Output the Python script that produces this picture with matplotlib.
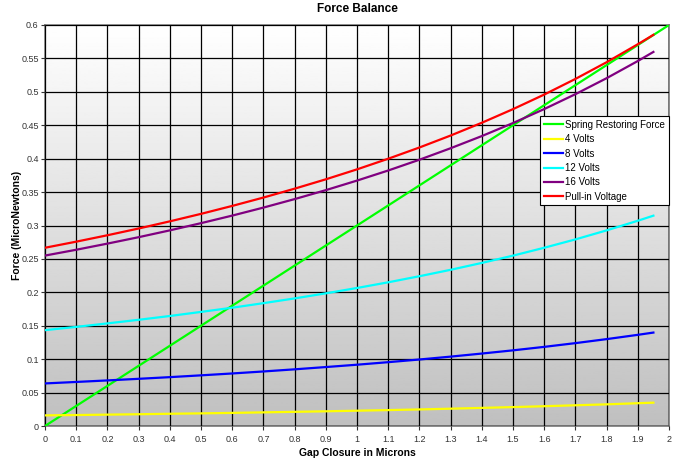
import matplotlib
matplotlib.use('Agg')
import matplotlib.pyplot as plt
import numpy as np

# gap closure (microns)
x_spring = [0, 0.1, 0.2, 0.3, 0.4, 0.5, 0.6, 0.7, 0.8, 0.9, 1.0,
            1.1, 1.2, 1.3, 1.4, 1.5, 1.6, 1.7, 1.8, 1.9, 2.0]
spring = [0, 0.03, 0.06, 0.09, 0.12, 0.15, 0.18, 0.21, 0.24, 0.27, 0.30,
          0.33, 0.36, 0.39, 0.42, 0.45, 0.48, 0.51, 0.54, 0.57, 0.60]

x_volt = [0, 0.1, 0.2, 0.3, 0.4, 0.5, 0.6, 0.7, 0.8, 0.9, 1.0,
          1.1, 1.2, 1.3, 1.4, 1.5, 1.6, 1.7, 1.8, 1.9, 1.95]
v4 = [0.0159, 0.0164, 0.0170, 0.0176, 0.0183, 0.0189, 0.0196, 0.0204, 0.0212, 0.0220, 0.0229,
      0.0238, 0.0248, 0.0259, 0.0271, 0.0283, 0.0296, 0.0310, 0.0324, 0.0341, 0.0349]
v8 = [0.0637, 0.0659, 0.0682, 0.0706, 0.0731, 0.0758, 0.0786, 0.0816, 0.0848, 0.0882, 0.0917,
      0.0955, 0.0995, 0.1038, 0.1084, 0.1132, 0.1184, 0.1240, 0.1300, 0.1364, 0.1398]
v12 = [0.1434, 0.1483, 0.1535, 0.1589, 0.1646, 0.1707, 0.1770, 0.1838, 0.1909, 0.1985, 0.2065,
       0.2150, 0.2241, 0.2337, 0.2440, 0.2549, 0.2667, 0.2792, 0.2927, 0.3071, 0.3147]
v16 = [0.2550, 0.2637, 0.2729, 0.2825, 0.2927, 0.3035, 0.3148, 0.3268, 0.3395, 0.3529, 0.3672,
       0.3823, 0.3984, 0.4156, 0.4338, 0.4533, 0.4742, 0.4965, 0.5204, 0.5461, 0.5597]
pullin = [0.2667, 0.2758, 0.2854, 0.2955, 0.3062, 0.3174, 0.3293, 0.3418, 0.3551, 0.3691, 0.3840,
          0.3999, 0.4167, 0.4346, 0.4537, 0.4741, 0.4959, 0.5193, 0.5443, 0.5712, 0.5853]

x_ticks = [0, 0.1, 0.2, 0.3, 0.4, 0.5, 0.6, 0.7, 0.8, 0.9, 1, 1.1, 1.2, 1.3, 1.4, 1.5, 1.6, 1.7, 1.8, 1.9, 2]
y_ticks = [0, 0.05, 0.1, 0.15, 0.2, 0.25, 0.3, 0.35, 0.4, 0.45, 0.5, 0.55, 0.6]

plt.rcParams['font.family'] = ['Liberation Sans', 'DejaVu Sans']

fig = plt.figure(figsize=(6.81, 4.63), dpi=100)
ax = fig.add_axes([45/681, 37/463, 624/681, 401/463])

# white (top) to gray (bottom) background
grad = np.linspace(1.0, 0.75, 256).reshape(-1, 1)
ax.imshow(grad, cmap='gray', vmin=0, vmax=1, aspect='auto',
          extent=[0, 2, 0, 0.6], origin='upper', zorder=0)

ax.set_xlim(0, 2)
ax.set_ylim(0, 0.6)
ax.set_xticks(x_ticks)
ax.set_yticks(y_ticks)
ax.set_xticklabels([('%g' % t) for t in x_ticks])
ax.set_yticklabels([('%g' % t) for t in y_ticks])
ax.tick_params(labelsize=6.5, length=3, width=0.8, colors='#333333')
ax.tick_params(axis='y', pad=1.5)
ax.grid(True, color='black', linewidth=0.9)
ax.set_axisbelow(False)
for s in ax.spines.values():
    s.set_color('#777777')
    s.set_linewidth(1.2)

ax.plot(x_spring, spring, color='#00ff00', lw=1.6, label='Spring Restoring Force', zorder=3)
ax.plot(x_volt, v4, color='#ffff00', lw=1.6, label='4 Volts', zorder=3)
ax.plot(x_volt, v8, color='#0000ff', lw=1.6, label='8 Volts', zorder=3)
ax.plot(x_volt, v12, color='#00ffff', lw=1.6, label='12 Volts', zorder=3)
ax.plot(x_volt, v16, color='#800080', lw=1.6, label='16 Volts', zorder=3)
ax.plot(x_volt, pullin, color='#ff0000', lw=1.6, label='Pull-in Voltage', zorder=3)

leg = ax.legend(loc='upper left', bbox_to_anchor=(0.794, 0.772), fontsize=7,
                frameon=True, fancybox=False, framealpha=1, edgecolor='black',
                handlelength=2.0, handletextpad=0.2, borderpad=0.35, labelspacing=0.45,
                borderaxespad=0)
leg.get_frame().set_linewidth(0.8)
leg.set_zorder(5)

ax.set_title('Force Balance', fontsize=8.5, fontweight='bold', pad=9)
ax.set_xlabel('Gap Closure in Microns', fontsize=7.5, fontweight='bold', labelpad=3)
ax.set_ylabel('Force (MicroNewtons)', fontsize=7.5, fontweight='bold')
ax.yaxis.set_label_coords(-0.037, 0.5)

fig.savefig('out.png', dpi=100)
